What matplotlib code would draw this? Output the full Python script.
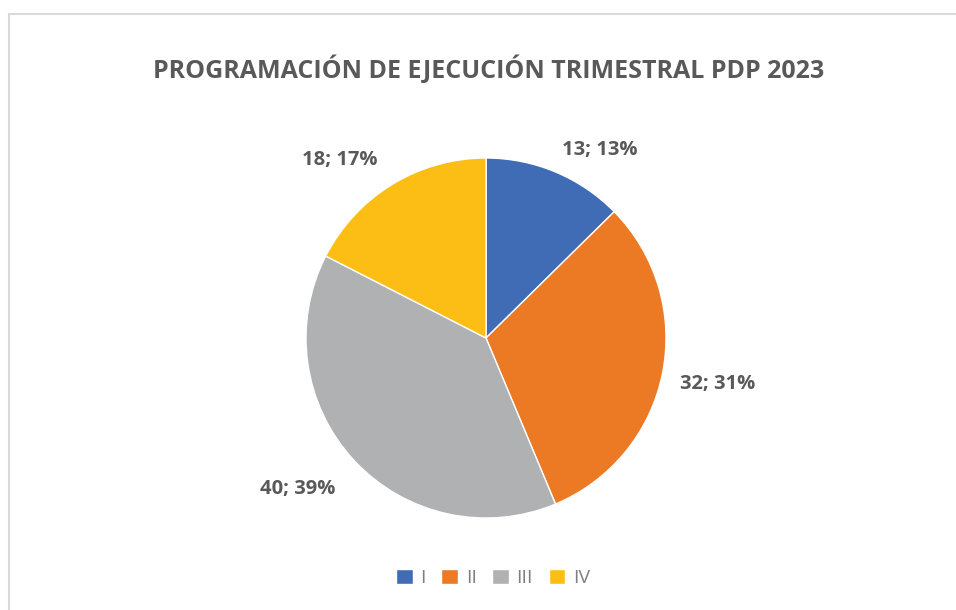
import numpy as np
import matplotlib.pyplot as plt
from matplotlib.lines import Line2D

# quarters and planned executions
quarters = ['I', 'II', 'III', 'IV']
values = [13, 32, 40, 18]
colors = ['#3F6CB5', '#EC7A24', '#B0B1B3', '#FCBE15']
title = 'PROGRAMACIÓN DE EJECUCIÓN TRIMESTRAL PDP 2023'

text_color = '#595959'
plt.rcParams['font.family'] = ['Open Sans', 'DejaVu Sans']


def main():
    W, H = 956, 610
    fig = plt.figure(figsize=(W / 100, H / 100), dpi=100)
    ax = fig.add_axes([0, 0, 1, 1])

    total = sum(values)
    labels = [f'{v}; {round(100 * v / total)}%' for v in values]

    cx, cy, r = 486, H - 338, 180
    wedges, texts = ax.pie(
        values, colors=colors, labels=labels, startangle=90,
        counterclock=False, center=(cx, cy), radius=r,
        labeldistance=1.28, frame=True,
        wedgeprops=dict(edgecolor='white', linewidth=1),
        textprops=dict(color=text_color, fontsize=14.5, fontweight='bold'))

    # excel-like "best fit" placement of the data labels
    dist = [1.22, 1.31, 1.34, 1.28]
    shift = [-8.5, 0, -4, 8]
    for w, t, d, s in zip(wedges, texts, dist, shift):
        ang = np.deg2rad((w.theta1 + w.theta2) / 2 + s)
        t.set_position((cx + d * r * np.cos(ang), cy + d * r * np.sin(ang)))
        t.set_ha('center')
        t.set_va('center')

    ax.set_xlim(0, W)
    ax.set_ylim(0, H)
    ax.set_aspect('equal')
    ax.axis('off')

    fig.text(489 / W, 1 - 70 / H, title, ha='center', va='center',
             fontsize=18, fontweight='bold', color=text_color)

    fig.legend(wedges, quarters, loc='center', ncol=4,
               bbox_to_anchor=(493 / W, 1 - 578 / H), frameon=False,
               handlelength=0.85, handleheight=0.85, handletextpad=0.4,
               columnspacing=0.8, fontsize=14, labelcolor='#7F7F7F')

    # chart border (top and left visible)
    fig.add_artist(Line2D([9 / W, 1], [1 - 14 / H, 1 - 14 / H],
                          color='#D9D9D9', lw=1.5))
    fig.add_artist(Line2D([9 / W, 9 / W], [0, 1 - 14 / H],
                          color='#D9D9D9', lw=1.5))

    fig.savefig('out.png', dpi=100)


if __name__ == '__main__':
    main()
